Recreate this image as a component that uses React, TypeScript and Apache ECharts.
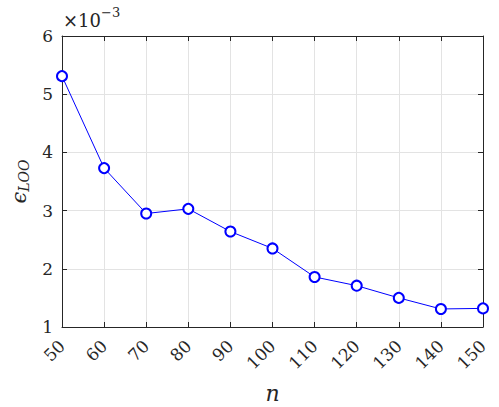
import React, { useEffect, useRef } from "react";
import * as echarts from "echarts";

const nValues = [50, 60, 70, 80, 90, 100, 110, 120, 130, 140, 150];
const looError = [5.31, 3.73, 2.95, 3.03, 2.64, 2.35, 1.86, 1.71, 1.5, 1.31, 1.32];
const xTicks = { min: 50, max: 150, step: 10 };
const yTicks = { min: 1, max: 6, step: 1 };

const FONT = "DejaVu Serif";
const AXIS_COLOR = "#262626";
const GRID_COLOR = "#e3e3e3";

export default function App() {
  const ref = useRef<HTMLDivElement>(null);
  useEffect(() => {
    if (!ref.current) return;
    const chart = echarts.init(ref.current, null, { renderer: "svg" });
    const data = nValues.map((n, i) => [n, looError[i]]);
    const axisLine = { show: true, lineStyle: { color: AXIS_COLOR, width: 1 } };
    const tick = { show: true, inside: true, length: 5, lineStyle: { color: AXIS_COLOR } };
    chart.setOption({
      animation: false,
      backgroundColor: "#ffffff",
      textStyle: { fontFamily: FONT },
      grid: {
        left: 62,
        top: 36,
        right: 16,
        bottom: 80,
        containLabel: false,
        outerBoundsMode: "none",
      },
      xAxis: [
        {
          type: "value",
          min: xTicks.min,
          max: xTicks.max,
          interval: xTicks.step,
          position: "bottom",
          axisLine,
          axisTick: tick,
          splitLine: { show: true, lineStyle: { color: GRID_COLOR, width: 1 } },
          axisLabel: {
            rotate: 45,
            margin: 16,
            padding: [12, 0, 0, 0],
            fontFamily: FONT,
            fontSize: 17,
            color: AXIS_COLOR,
          },
          name: "n",
          nameLocation: "middle",
          nameGap: 55,
          nameTextStyle: { fontFamily: FONT, fontStyle: "italic", fontSize: 22, color: AXIS_COLOR },
        },
        {
          type: "value",
          min: xTicks.min,
          max: xTicks.max,
          interval: xTicks.step,
          position: "top",
          axisLine,
          axisTick: tick,
          axisLabel: { show: false },
          splitLine: { show: false },
        },
      ],
      yAxis: [
        {
          type: "value",
          min: yTicks.min,
          max: yTicks.max,
          interval: yTicks.step,
          position: "left",
          axisLine,
          axisTick: tick,
          splitLine: { show: true, lineStyle: { color: GRID_COLOR, width: 1 } },
          axisLabel: { fontFamily: FONT, fontSize: 17, color: AXIS_COLOR, margin: 9 },
          name: "{e|ϵ}{s|LOO}",
          nameLocation: "middle",
          nameRotate: 90,
          nameGap: 31,
          nameTextStyle: {
            rich: {
              e: { fontFamily: FONT, fontSize: 21, color: AXIS_COLOR, fontStyle: "italic" },
              s: { fontFamily: FONT, fontSize: 14, color: AXIS_COLOR, fontStyle: "italic", padding: [10, 0, 0, 0] },
            },
          },
        },
        {
          type: "value",
          min: yTicks.min,
          max: yTicks.max,
          interval: yTicks.step,
          position: "right",
          axisLine,
          axisTick: tick,
          axisLabel: { show: false },
          splitLine: { show: false },
        },
      ],
      graphic: [
        {
          type: "text",
          left: 63,
          top: 6,
          style: {
            text: "{a|×10}{b|−3}",
            rich: {
              a: { fontFamily: FONT, fontSize: 18, fill: AXIS_COLOR, verticalAlign: "bottom" },
              b: { fontFamily: FONT, fontSize: 13, fill: AXIS_COLOR, padding: [0, 0, 10, 0] },
            },
          },
        },
      ],
      series: [
        {
          type: "line",
          data,
          xAxisIndex: 0,
          yAxisIndex: 0,
          symbol: "emptyCircle",
          symbolSize: 10,
          showAllSymbol: true,
          lineStyle: { color: "#0000ff", width: 1 },
          itemStyle: { color: "#0000ff", borderColor: "#0000ff", borderWidth: 1 },
          emphasis: { disabled: true },
        },
      ],
    });
    return () => chart.dispose();
  }, []);
  return (
    <div
      ref={ref}
      style={{ position: "fixed", left: 0, top: 0, width: 499, height: 407 }}
    />
  );
}
